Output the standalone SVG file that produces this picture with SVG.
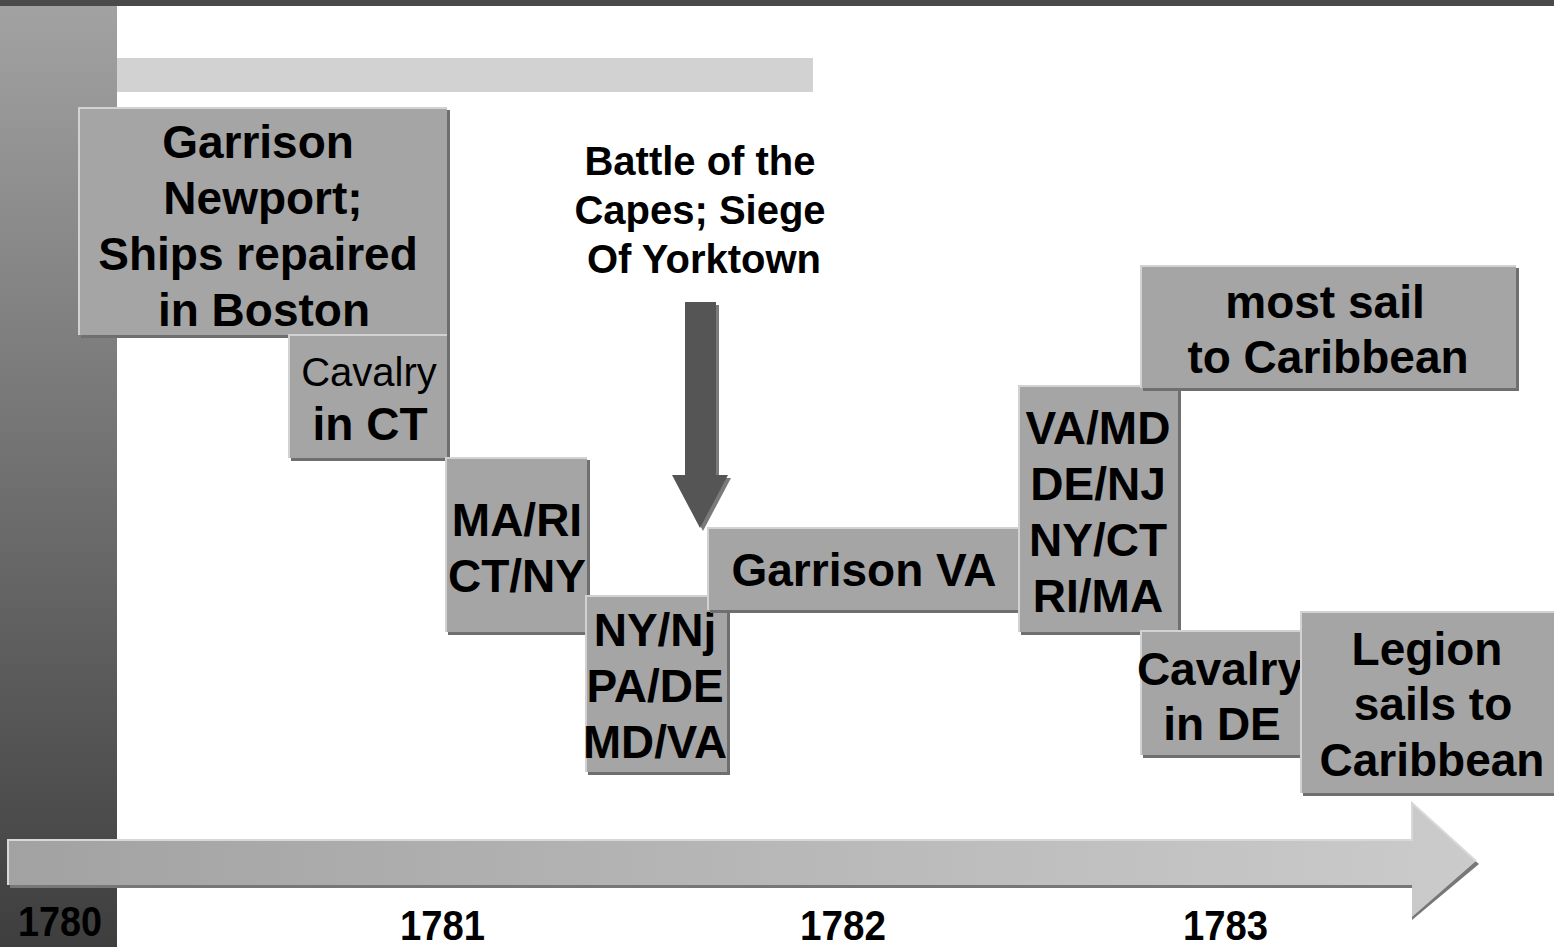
<svg xmlns="http://www.w3.org/2000/svg" width="1554" height="947" viewBox="0 0 1554 947">
<style>
.bx{fill:#a5a5a5}
.sh{fill:#6f6f6f}
.hl{fill:none;stroke:#d2d2d2;stroke-width:2}
.t{font-family:"Liberation Sans",Arial,sans-serif;font-weight:bold;font-size:46px;fill:#000;text-anchor:middle}
.r{font-weight:normal;font-size:40px}
.b40{font-size:40px}
.yr{font-family:"Liberation Sans",Arial,sans-serif;font-weight:bold;font-size:43px;fill:#000}
</style>
<defs>
<linearGradient id="lbar" x1="0" y1="0" x2="0" y2="1">
<stop offset="0" stop-color="#a2a2a2"/>
<stop offset="1" stop-color="#3e3e3e"/>
</linearGradient>
<linearGradient id="tl" x1="0" y1="0" x2="1" y2="0">
<stop offset="0" stop-color="#a2a2a2"/>
<stop offset="1" stop-color="#cbcbcb"/>
</linearGradient>
</defs>
<rect width="1554" height="947" fill="#ffffff"/>
<rect x="0" y="0" width="1554" height="6" fill="#4a4a4a"/>
<rect x="0" y="6" width="117" height="941" fill="url(#lbar)"/>
<rect x="117" y="58" width="696" height="34" fill="#d2d2d2"/>

<g id="timeline">
<polygon points="1412,806 1479,864 1412,920 1412,888 10,888 10,843 1412,843" fill="#777"/>
<polygon points="1412,803 1476,861 1412,917 1412,885 8,885 8,840 1412,840" fill="url(#tl)"/>
<polyline points="8,885 8,840 1412,840 1412,803 1476,861" fill="none" stroke="#d8d8d8" stroke-width="2"/>
</g>

<g id="n-garrison-newport">
<rect class="sh" x="81" y="110" width="369" height="228"/>
<rect class="bx" x="78" y="107" width="369" height="228"/>
<polyline class="hl" points="79,335 79,108 447,108"/>
<text class="t" x="258" y="158">Garrison</text>
<text class="t" x="263" y="214">Newport;</text>
<text class="t" x="258" y="270">Ships repaired</text>
<text class="t" x="264" y="326">in Boston</text>
</g>

<g id="n-cavalry-ct">
<rect class="sh" x="291" y="337" width="159" height="124"/>
<rect class="bx" x="288" y="334" width="159" height="124"/>
<polyline class="hl" points="289,458 289,335 447,335"/>
<text class="t r" x="369" y="386">Cavalry</text>
<text class="t" x="370" y="440">in CT</text>
</g>

<g id="n-ma-ri">
<rect class="sh" x="448" y="460" width="142" height="175"/>
<rect class="bx" x="445" y="457" width="142" height="175"/>
<polyline class="hl" points="446,632 446,458 587,458"/>
<text class="t" x="517" y="536">MA/RI</text>
<text class="t" x="517" y="592">CT/NY</text>
</g>

<g id="n-ny-nj">
<rect class="sh" x="588" y="598" width="142" height="177"/>
<rect class="bx" x="585" y="595" width="142" height="177"/>
<polyline class="hl" points="586,772 586,596 727,596"/>
<text class="t" x="655" y="646">NY/Nj</text>
<text class="t" x="655" y="702">PA/DE</text>
<text class="t" x="655" y="758" textLength="144" lengthAdjust="spacingAndGlyphs">MD/VA</text>
</g>

<g id="n-garrison-va">
<rect class="sh" x="710" y="530" width="311" height="83"/>
<rect class="bx" x="707" y="527" width="311" height="83"/>
<polyline class="hl" points="708,610 708,528 1018,528"/>
<text class="t" x="864" y="586">Garrison VA</text>
</g>

<g id="n-va-md">
<rect class="sh" x="1021" y="388" width="160" height="247"/>
<rect class="bx" x="1018" y="385" width="160" height="247"/>
<polyline class="hl" points="1019,632 1019,386 1178,386"/>
<text class="t" x="1098" y="444">VA/MD</text>
<text class="t" x="1098" y="500">DE/NJ</text>
<text class="t" x="1098" y="556">NY/CT</text>
<text class="t" x="1098" y="612">RI/MA</text>
</g>

<g id="n-most-sail">
<rect class="sh" x="1143" y="268" width="376" height="123"/>
<rect class="bx" x="1140" y="265" width="376" height="123"/>
<polyline class="hl" points="1141,388 1141,266 1516,266"/>
<text class="t" x="1325" y="318">most sail</text>
<text class="t" x="1328" y="373">to Caribbean</text>
</g>

<g id="n-cavalry-de">
<rect class="sh" x="1143" y="633" width="160" height="125"/>
<rect class="bx" x="1140" y="630" width="160" height="125"/>
<polyline class="hl" points="1141,755 1141,631 1300,631"/>
<text class="t" x="1220" y="685">Cavalry</text>
<text class="t" x="1222" y="740">in DE</text>
</g>

<g id="n-legion">
<rect class="sh" x="1303" y="614" width="254" height="182"/>
<rect class="bx" x="1300" y="611" width="254" height="182"/>
<polyline class="hl" points="1301,793 1301,612 1554,612"/>
<text class="t" x="1427" y="665">Legion</text>
<text class="t" x="1433" y="720">sails to</text>
<text class="t" x="1432" y="776">Caribbean</text>
</g>

<g id="n-battle">
<text class="t b40" x="700" y="175">Battle of the</text>
<text class="t b40" x="700" y="224">Capes; Siege</text>
<text class="t b40" x="704" y="273">Of Yorktown</text>
</g>

<g id="connectors">
<polygon points="688,305 719,305 719,478 731,478 703,531 675,478 688,478" fill="#7a7a7a"/>
<polygon points="685,302 716,302 716,475 728,475 700,528 672,475 685,475" fill="#555555"/>
</g>

<g id="years">
<text class="yr" x="18" y="936" textLength="84" lengthAdjust="spacingAndGlyphs">1780</text>
<text class="yr" x="400" y="940" textLength="85" lengthAdjust="spacingAndGlyphs">1781</text>
<text class="yr" x="800" y="940" textLength="86" lengthAdjust="spacingAndGlyphs">1782</text>
<text class="yr" x="1183" y="940" textLength="85" lengthAdjust="spacingAndGlyphs">1783</text>
</g>
</svg>
